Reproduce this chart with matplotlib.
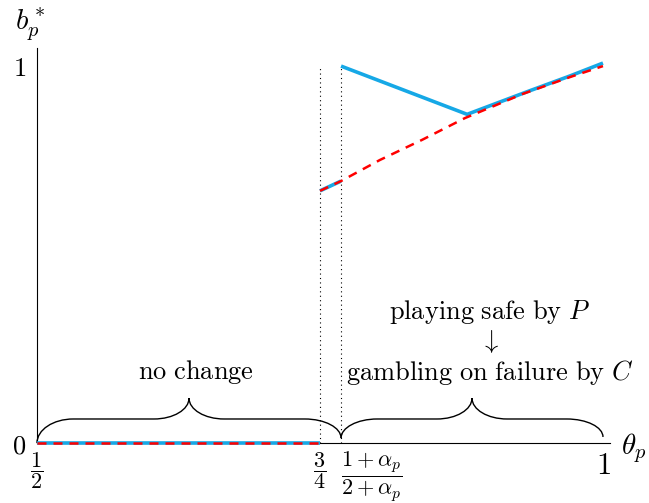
import numpy as np
import matplotlib.pyplot as plt
from matplotlib.path import Path
from matplotlib.patches import PathPatch

plt.rcParams['mathtext.fontset'] = 'cm'
plt.rcParams['font.family'] = 'DejaVu Serif'

# thresholds on theta_p
th_half = 0.5
th_34 = 0.75
th_alpha = 0.7686

# b_p^* before the policy change (red, dashed)
old_theta = [0.5, 0.75, 0.75, 0.7686, 0.803, 0.840, 0.878, 0.929, 0.971, 1.0]
old_b = [0.0, 0.0, 0.669, 0.695, 0.751, 0.804, 0.862, 0.926, 0.971, 1.0]

# b_p^* after the policy change (blue)
new_theta_low = [0.5, 0.75]
new_b_low = [0.0, 0.0]
new_theta_mid = [0.75, 0.7686]
new_b_mid = [0.669, 0.695]
new_theta_high = [0.7686, 0.88, 0.933, 0.971, 1.0]
new_b_high = [1.0, 0.872, 0.932, 0.974, 1.008]

blue = '#16a8e6'
red = '#ff0000'

fig = plt.figure(figsize=(6.49, 5.03), dpi=100)
ax = fig.add_axes([37 / 649, 60 / 503, 573 / 649, 395 / 503])
ax.set_xlim(0.5, 1.0062)
ax.set_ylim(0.0, 1.048)

for s in ['top', 'right']:
    ax.spines[s].set_visible(False)
for s in ['left', 'bottom']:
    ax.spines[s].set_linewidth(0.8)

# dotted guides at the two thresholds
for t in [th_34, th_alpha]:
    ax.plot([t, t], [0, 1.0], color='black', lw=0.8, ls=(0, (1, 3)), zorder=1)

kw_blue = dict(color=blue, lw=2.6, solid_capstyle='butt', clip_on=False, zorder=3)
kw_red = dict(color=red, lw=1.8, ls=(0, (3.6, 2.8)), clip_on=False, zorder=4)
ax.plot(new_theta_low, new_b_low, **kw_blue)
ax.plot(new_theta_mid, new_b_mid, **kw_blue)
ax.plot(new_theta_high, new_b_high, **kw_blue)
ax.plot(old_theta[:2], old_b[:2], **kw_red)
ax.plot(old_theta[2:], old_b[2:], **kw_red)


def brace(x0, y0, x1, y1, yf, yt, we, wm):
    xm = (x0 + x1) / 2
    k = 0.552
    verts = [
        (x0, y0),
        (x0, y0 + k * (yf - y0)), (x0 + (1 - k) * we, yf), (x0 + we, yf),
        (xm - wm, yf),
        (xm - wm + k * wm, yf), (xm, yt - k * (yt - yf)), (xm, yt),
        (xm, yt - k * (yt - yf)), (xm + wm - k * wm, yf), (xm + wm, yf),
        (x1 - we, yf),
        (x1 - (1 - k) * we, yf), (x1, y1 + k * (yf - y1)), (x1, y1),
    ]
    codes = [Path.MOVETO,
             Path.CURVE4, Path.CURVE4, Path.CURVE4,
             Path.LINETO,
             Path.CURVE4, Path.CURVE4, Path.CURVE4,
             Path.CURVE4, Path.CURVE4, Path.CURVE4,
             Path.LINETO,
             Path.CURVE4, Path.CURVE4, Path.CURVE4]
    ax.add_patch(PathPatch(Path(verts, codes), fc='none', ec='black',
                           lw=1.0, clip_on=False, zorder=2))


brace(th_half, 0.0, th_alpha, 0.013, 0.0637, 0.119, 0.032, 0.031)
brace(th_alpha, 0.013, 1.0, 0.016, 0.0637, 0.119, 0.032, 0.031)

ax.text(0.6405, 0.188, r'$\mathrm{no\ change}$', fontsize=19,
        ha='center', va='center')
ax.text(0.900, 0.347, r'$\mathrm{playing\ safe\ by}\ P$', fontsize=19,
        ha='center', va='center')
ax.text(0.900, 0.268, r'$\downarrow$', fontsize=19, ha='center', va='center')
ax.text(0.900, 0.186, r'$\mathrm{gambling\ on\ failure\ by}\ C$',
        fontsize=19, ha='center', va='center')

# ticks
ax.tick_params(length=0)
ax.set_yticks([0, 1])
ax.set_yticklabels([r'$0$', r'$1$'], fontsize=19)
ax.tick_params(axis='y', pad=8)
ax.set_xticks([th_half, th_34, th_alpha, 1.0])
xl = ax.set_xticklabels([r'$\dfrac{1}{2}$', r'$\dfrac{3}{4}$',
                         r'$\dfrac{1+\alpha_p}{2+\alpha_p}$', r'$1$'],
                        fontsize=16)
xl[2].set_ha('left')
xl[3].set_fontsize(22)
ax.tick_params(axis='x', pad=5)

fig.text(30 / 649, 1 - 25 / 503, r'$b_p^*$', fontsize=21,
         ha='center', va='center')
fig.text(621 / 649, 1 - 448 / 503, r'$\theta_p$', fontsize=21,
         ha='left', va='center')

fig.savefig('out.png', dpi=100)
